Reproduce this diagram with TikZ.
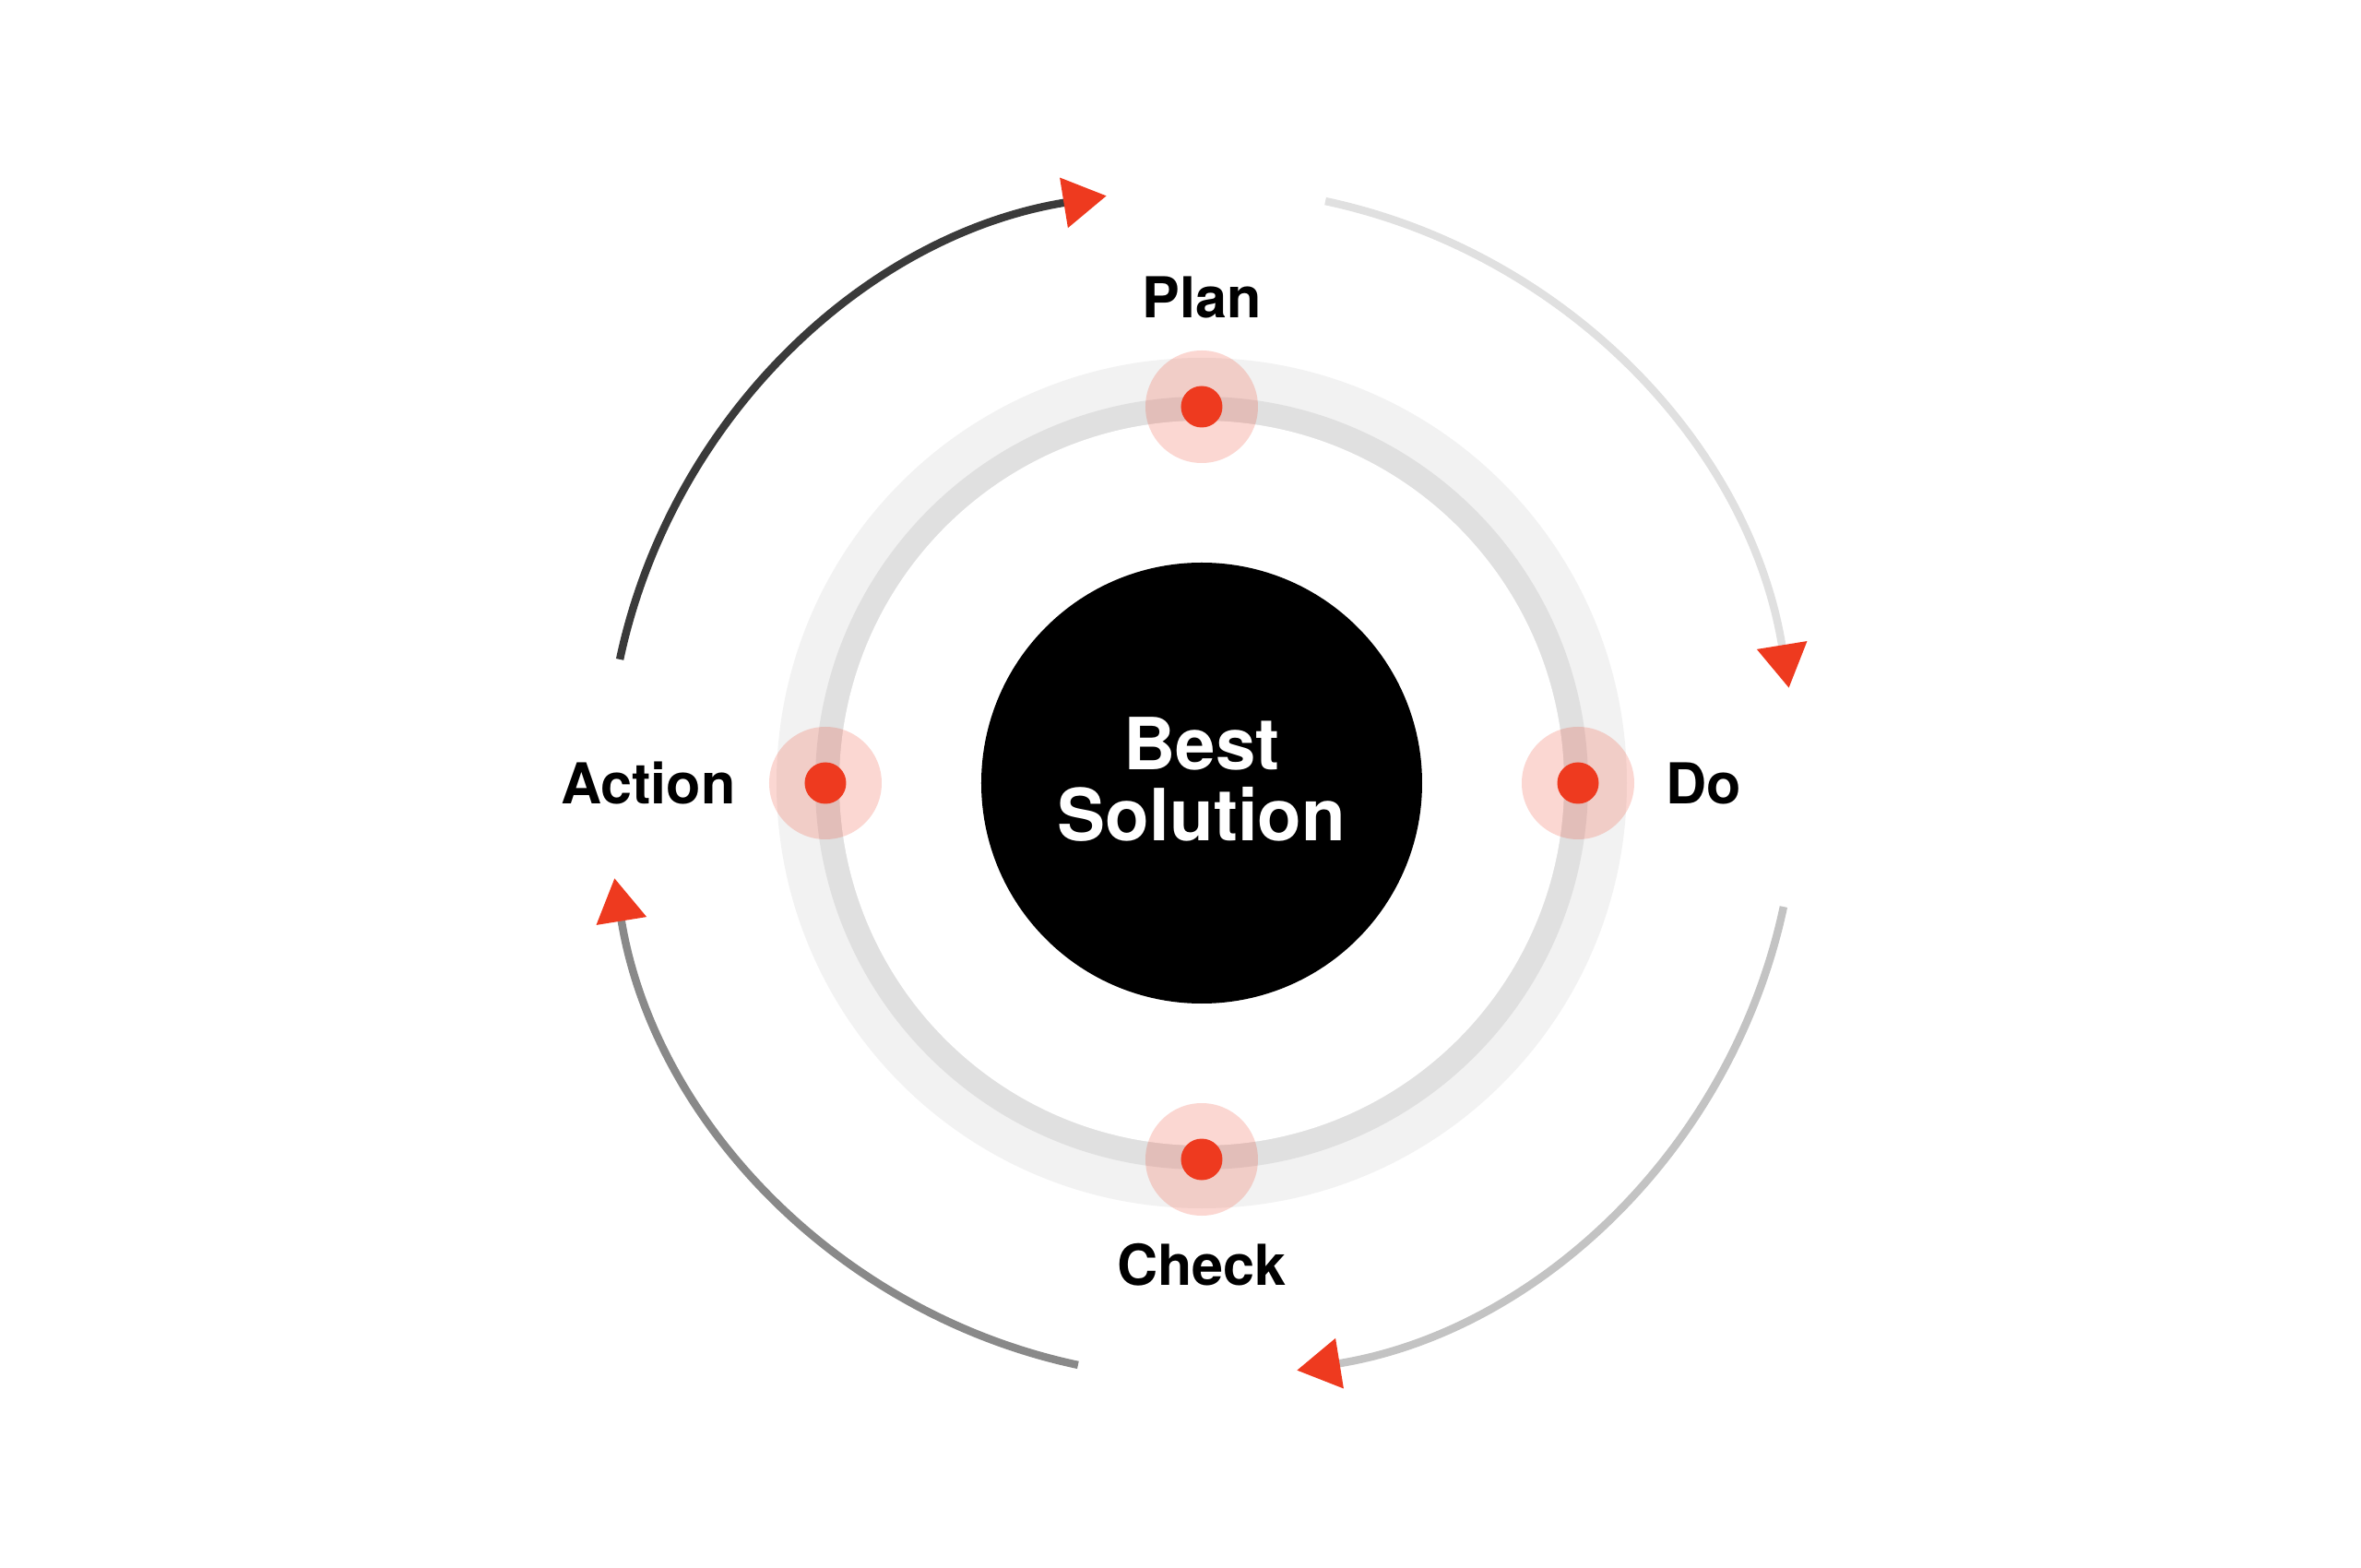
\documentclass[tikz,border=0pt]{standalone}
\usepackage{fontspec}
\setmainfont{TeX Gyre Heros}
\usepackage{tikz}
\usetikzlibrary{arrows.meta}

\definecolor{cyclered}{RGB}{238,58,31}
\definecolor{ringlight}{RGB}{242,242,242}
\definecolor{ringdark}{RGB}{224,224,224}
\definecolor{arcone}{RGB}{58,58,58}
\definecolor{arctwo}{RGB}{224,224,224}
\definecolor{arcthree}{RGB}{195,195,195}
\definecolor{arcfour}{RGB}{137,137,137}

\tikzset{
  halo/.style = {circle, fill=cyclered, fill opacity=0.2, minimum size=1.22cm, inner sep=0pt},
  stagedot/.style = {circle, fill=cyclered, minimum size=0.45cm, inner sep=0pt},
  stage/.style = {font=\fontsize{17.4}{20}\selectfont\bfseries},
  cyclearc/.style = {line width=2.4pt,
    -{Triangle[length=0.47cm, width=0.53cm, color=cyclered]}}
}

\begin{document}
\begin{tikzpicture}[node distance = 1.2cm]
        \fill [white] (-13.03,-8.51) rectangle (12.57,8.49);
        \useasboundingbox (-13.03,-8.51) rectangle (12.57,8.49);

        % rings
        \fill [ringlight] (0,0) circle [radius=4.61];
        \fill [ringdark] (0,0) circle [radius=4.19];
        \fill [white] (0,0) circle [radius=3.93];

        \node [halo] (planHalo) at (90:4.08) {};
        \node [halo] (doHalo) at (0:4.08) {};
        \node [halo] (checkHalo) at (-90:4.08) {};
        \node [halo] (actHalo) at (180:4.08) {};

        \node [stagedot] (plan) at (90:4.08) {};
        \node [stagedot] (do) at (0:4.08) {};
        \node [stagedot] (check) at (-90:4.08) {};
        \node [stagedot] (act) at (180:4.08) {};

        \node [circle, fill=black, minimum size=4.78cm, inner sep=0pt] (sol) at (0,0) {};
        \node [text=white, align=center, font=\fontsize{22.2}{22.1}\selectfont\bfseries,
        above of = sol, node distance = 0.04cm] (solText) {Best\\Solution};

        \node [stage, above of = plan, node distance = 1.19cm] (planText) {Plan};
        \node [stage, right of = do, node distance = 1.36cm] (doText) {Do};
        \node [stage, below of = check, node distance = 1.14cm] (checkText) {Check};
        \node [stage, left of = act, node distance = 1.92cm] (actText) {Action};

        % cycle arrows
        \coordinate (actOut) at (168:6.45);
        \coordinate (planOut) at (78:6.45);
        \coordinate (doOut) at (-12:6.45);
        \coordinate (checkOut) at (-102:6.45);

        \draw [cyclearc, arcone] (actOut) arc [start angle=168, end angle=99.2, radius=6.45];
        \draw [cyclearc, arctwo] (planOut) arc [start angle=78, end angle=9.2, radius=6.45];
        \draw [cyclearc, arcthree] (doOut) arc [start angle=-12, end angle=-80.8, radius=6.45];
        \draw [cyclearc, arcfour] (checkOut) arc [start angle=-102, end angle=-170.8, radius=6.45];
\end{tikzpicture}
\end{document}
